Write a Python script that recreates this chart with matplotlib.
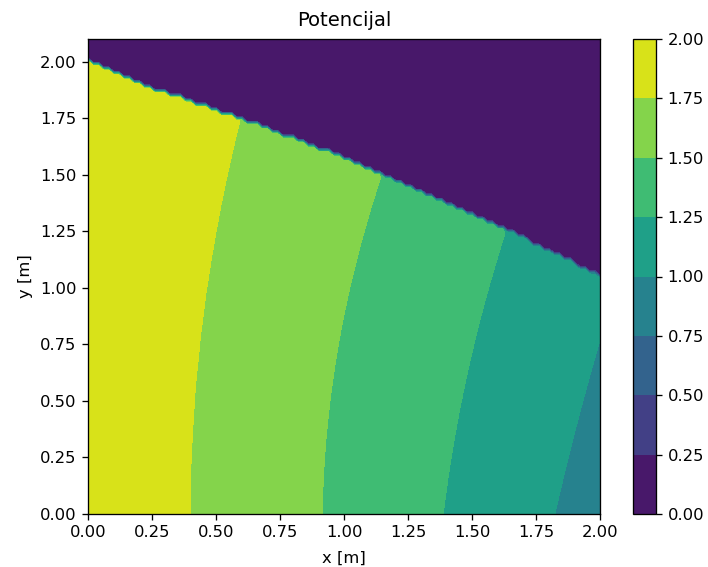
import numpy as np
import matplotlib
matplotlib.use("Agg")
import matplotlib.pyplot as plt

# boundary of the domain (outside of it the potential is 0)
boundary_x = [0.0, 0.24, 0.59, 1.0, 1.15, 1.64, 2.0]
boundary_y = [2.0, 1.887, 1.75, 1.575, 1.50, 1.254, 1.055]

# equipotential lines: x position at given y
levels = [0.0, 0.25, 0.5, 0.75, 1.0, 1.25, 1.5, 1.75, 2.0]

line_175_y = [0.0, 0.459, 0.90, 1.342, 1.74]
line_175_x = [0.398, 0.414, 0.450, 0.516, 0.594]

line_150_y = [0.0, 0.238, 0.68, 1.121, 1.489]
line_150_x = [0.913, 0.926, 0.971, 1.043, 1.147]

line_125_y = [0.0, 0.283, 0.724, 0.99, 1.166, 1.254]
line_125_x = [1.386, 1.427, 1.504, 1.557, 1.609, 1.636]

line_100_y = [0.0, 0.137, 0.43, 0.78, 1.1]
line_100_x = [1.824, 1.85, 1.92, 2.0, 2.09]

left_value = 2.0

x = np.linspace(0, 2, 101)
y = np.linspace(0, 2.1, 106)
X, Y = np.meshgrid(x, y)
V = np.zeros_like(X)


def smooth_line(ly, lx):
    # smooth curve through the read points
    p = np.polyfit(ly, lx, 2)
    return np.polyval(p, np.clip(y, 0, max(ly)))


x175 = smooth_line(line_175_y, line_175_x)
x150 = smooth_line(line_150_y, line_150_x)
x125 = smooth_line(line_125_y, line_125_x)
x100 = smooth_line(line_100_y, line_100_x)

for i in range(len(y)):
    xs = [0.0, x175[i], x150[i], x125[i], x100[i]]
    vs = [left_value, 1.75, 1.5, 1.25, 1.0]
    row = np.interp(x, xs, vs)
    far = x > x100[i]
    row[far] = 1.0 - 0.25 * (x[far] - x100[i]) / (x100[i] - x125[i])
    V[i] = row

yb = np.interp(X, boundary_x, boundary_y)
V = np.where(Y <= yb + 1e-9, V, 0.0)

fig = plt.figure(figsize=(708 / 118, 567 / 118), dpi=118)
ax = fig.add_axes([88 / 708, 53 / 567, 512 / 708, 475 / 567])
cax = fig.add_axes([633 / 708, 53 / 567, 23 / 708, 475 / 567])

cs = ax.contourf(X, Y, V, levels=levels, cmap="viridis")
fig.colorbar(cs, cax=cax)

ax.set_title("Potencijal", pad=8)
ax.set_xlabel("x [m]", labelpad=6)
ax.set_ylabel("y [m]")

fig.savefig("out.png", dpi=118)
